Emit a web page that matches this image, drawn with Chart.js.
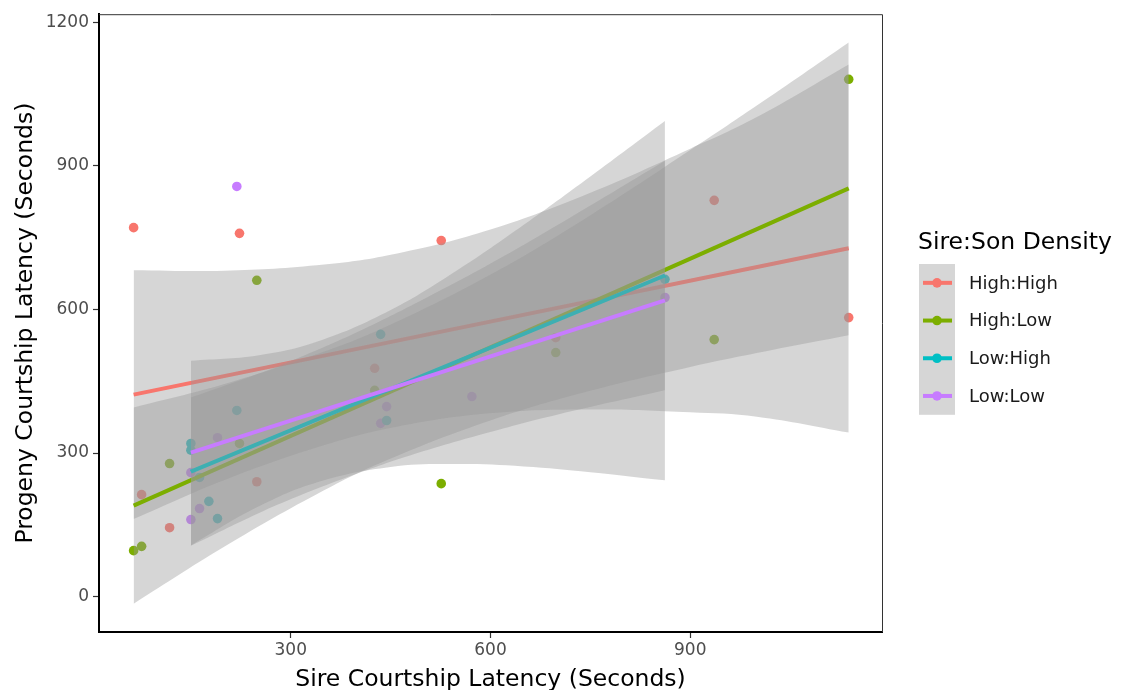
<!DOCTYPE html>
<html>
<head>
<meta charset="utf-8">
<script src="https://cdn.jsdelivr.net/npm/chart.js@4/dist/chart.umd.min.js"></script>
<style>
html,body{margin:0;padding:0;background:#fff;}
#wrap{width:1125px;height:690px;position:relative;}
</style>
</head>
<body>
<div id="wrap"><canvas id="c" width="1125" height="690"></canvas></div>
<script>
// ---------- data ----------
const groupNames = ['High:High', 'High:Low', 'Low:High', 'Low:Low'];
const groupColors = ['#F8766D', '#7CAE00', '#00BFC4', '#C77CFF'];
const legendTitle = 'Sire:Son Density';
const xTitle = 'Sire Courtship Latency (Seconds)';
const yTitle = 'Progeny Courtship Latency (Seconds)';
const xTicks = [300, 600, 900];
const yTicks = [0, 300, 600, 900, 1200];

// observed points
const hhX = [64, 76, 118, 223, 249, 426, 526, 698, 936, 1138];
const hhY = [771, 213, 144, 759, 240, 477, 744, 541, 828, 583];
const hlX = [64, 76, 118, 223, 249, 426, 526, 698, 936, 1138];
const hlY = [96, 105, 278, 320, 661, 431, 236, 510, 537, 1081];
const lhX = [150, 150, 163, 177, 190, 219, 435, 444, 862];
const lhY = [320, 306, 249, 199, 163, 389, 548, 368, 663];
const llX = [150, 150, 163, 190, 219, 435, 444, 572, 862];
const llY = [259, 161, 184, 332, 857, 362, 397, 418, 625];

// fitted lines
const hhFitX = [64, 1138];  const hhFitY = [422, 728];
const hlFitX = [64, 1138];  const hlFitY = [190, 853];
const lhFitX = [150, 862];  const lhFitY = [261, 671];
const llFitX = [150, 862];  const llFitY = [301, 619];

// confidence bands
const hhBandX  = [64, 200, 350, 460, 600, 750, 900, 1000, 1138];
const hhBandHi = [682, 681, 694, 717, 767, 844, 936, 1002, 1112];
const hhBandLo = [162, 243, 316, 355, 383, 391, 385, 376, 343];
const hlBandX  = [64, 200, 350, 446, 600, 750, 900, 1000, 1138];
const hlBandHi = [395, 444, 512, 566, 673, 797, 933, 1026, 1158];
const hlBandLo = [-15, 104, 222, 286, 368, 430, 480, 509, 546];
const lhBandX  = [150, 250, 310, 400, 500, 600, 700, 862];
const lhBandHi = [416, 465, 498, 553, 622, 696, 776, 911];
const lhBandLo = [106, 173, 209, 257, 304, 344, 380, 431];
const llBandX  = [150, 250, 340, 450, 550, 650, 750, 862];
const llBandHi = [493, 504, 533, 599, 682, 777, 878, 994];
const llBandLo = [107, 187, 239, 271, 277, 272, 260, 243];

// ---------- build ----------
const pts = [[hhX, hhY], [hlX, hlY], [lhX, lhY], [llX, llY]];
const fits = [[hhFitX, hhFitY], [hlFitX, hlFitY], [lhFitX, lhFitY], [llFitX, llFitY]];
const bands = [[hhBandX, hhBandHi, hhBandLo], [hlBandX, hlBandHi, hlBandLo],
               [lhBandX, lhBandHi, lhBandLo], [llBandX, llBandHi, llBandLo]];
const zip = (xs, ys) => xs.map((x, i) => ({x: x, y: ys[i]}));
const FONT = '"DejaVu Sans", "Liberation Sans", sans-serif';
const ribbonFill = 'rgba(153,153,153,0.4)';

const datasets = [];
pts.forEach((p, g) => {
  datasets.push({
    type: 'scatter', label: groupNames[g], data: zip(p[0], p[1]),
    backgroundColor: groupColors[g], borderWidth: 0,
    pointRadius: 4.8, pointHoverRadius: 4.8, order: 100
  });
});
bands.forEach((b, g) => {
  const base = 90 - g * 3;
  datasets.push({
    type: 'line', data: zip(b[0], b[1]), borderWidth: 0, pointRadius: 0,
    backgroundColor: ribbonFill, fill: '+1', tension: 0.4, order: base
  });
  datasets.push({
    type: 'line', data: zip(b[0], b[2]), borderWidth: 0, pointRadius: 0,
    fill: false, tension: 0.4, order: base
  });
  datasets.push({
    type: 'line', data: zip(fits[g][0], fits[g][1]), borderColor: groupColors[g],
    borderWidth: 4, pointRadius: 0, fill: false, tension: 0, order: base - 1
  });
});

const framePlugin = {
  id: 'frame',
  afterDatasetsDraw(chart) {
    const {ctx, chartArea: a} = chart;
    ctx.save();
    ctx.strokeStyle = '#333333';
    ctx.lineWidth = 1;
    ctx.beginPath();
    ctx.moveTo(a.left, a.top + 0.5);
    ctx.lineTo(a.right + 0.5, a.top + 0.5);
    ctx.lineTo(a.right + 0.5, a.bottom);
    ctx.stroke();
    ctx.restore();
  }
};

const legendPlugin = {
  id: 'ggLegend',
  afterDraw(chart) {
    const ctx = chart.ctx;
    ctx.save();
    ctx.textBaseline = 'middle';
    ctx.textAlign = 'left';
    ctx.fillStyle = '#000';
    ctx.font = '23.5px ' + FONT;
    ctx.fillText(legendTitle, 918, 243);
    const kx = 919, ky = 264, kw = 36, kh = 37.7;
    ctx.fillStyle = '#d6d6d6';
    ctx.fillRect(kx, ky, kw, kh * groupNames.length);
    groupNames.forEach((name, i) => {
      const cy = ky + kh * i + kh / 2;
      ctx.strokeStyle = groupColors[i];
      ctx.lineWidth = 4;
      ctx.beginPath();
      ctx.moveTo(kx + 4, cy);
      ctx.lineTo(kx + kw - 3, cy);
      ctx.stroke();
      ctx.fillStyle = groupColors[i];
      ctx.beginPath();
      ctx.arc(kx + kw / 2, cy, 4.8, 0, Math.PI * 2);
      ctx.fill();
      ctx.fillStyle = '#1a1a1a';
      ctx.font = '18px ' + FONT;
      ctx.fillText(name, 969, cy + 1);
    });
    ctx.restore();
  }
};

new Chart(document.getElementById('c'), {
  type: 'scatter',
  data: {datasets: datasets},
  options: {
    responsive: false,
    animation: false,
    events: [],
    layout: {padding: {left: 0, right: 243, top: 14, bottom: 0}},
    plugins: {legend: {display: false}, tooltip: {enabled: false}},
    scales: {
      x: {
        type: 'linear', min: 12, max: 1188,
        afterBuildTicks: s => { s.ticks = xTicks.map(v => ({value: v})); },
        afterFit: s => { s.height = 58; },
        grid: {display: true, drawOnChartArea: false, drawTicks: true, tickLength: 6, tickColor: '#333', tickWidth: 1.2},
        border: {display: true, color: '#000', width: 2},
        ticks: {color: '#4d4d4d', font: {family: FONT, size: 17}, padding: 2, maxRotation: 0,
                callback: v => String(v)},
        title: {display: true, text: xTitle, color: '#000', font: {family: FONT, size: 23.5, lineHeight: 0.9}, padding: {top: 0, bottom: 0}}
      },
      y: {
        type: 'linear', min: -74, max: 1217,
        afterBuildTicks: s => { s.ticks = yTicks.map(v => ({value: v})); },
        afterFit: s => { s.width = 99; },
        grid: {display: true, drawOnChartArea: false, drawTicks: true, tickLength: 6, tickColor: '#333', tickWidth: 1.2},
        border: {display: true, color: '#000', width: 2},
        ticks: {color: '#4d4d4d', font: {family: FONT, size: 17}, padding: 4,
                callback: v => String(v)},
        title: {display: true, text: yTitle, color: '#000', font: {family: FONT, size: 23.5, lineHeight: 1.0}, padding: {top: 14, bottom: 0}}
      }
    }
  },
  plugins: [framePlugin, legendPlugin]
});
</script>
</body>
</html>
